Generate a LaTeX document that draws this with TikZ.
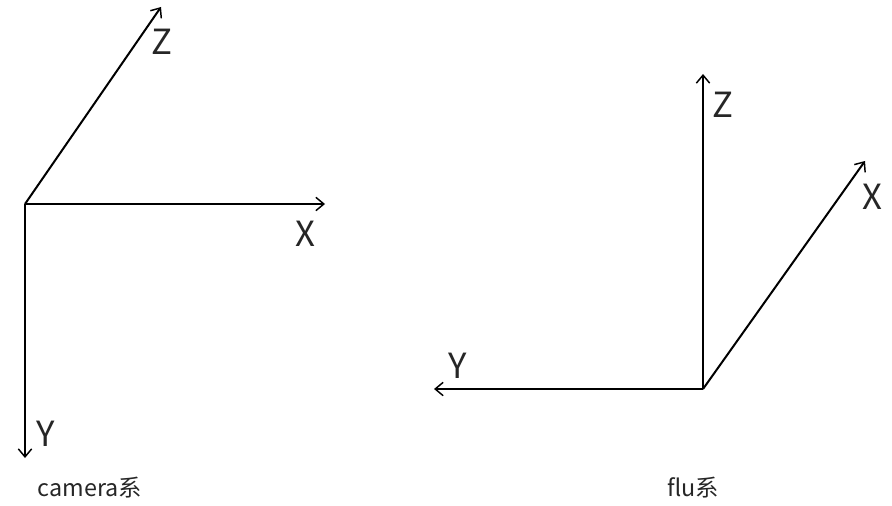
\documentclass[tikz,border=0pt]{standalone}
\usepackage{fontspec}
\setmainfont{Noto Sans CJK SC}
\usetikzlibrary{arrows.meta}
\tikzset{
  axis/.style={line width=1.5pt,-{Straight Barb[length=6pt,width=10pt,line width=1.1pt]}},
  axlabel/.style={inner sep=0.75pt,font=\fontsize{26}{26}\selectfont,text=black!85},
  caption/.style={inner sep=0.75pt,font=\fontsize{17.5}{17.5}\selectfont,text=black!85}
}
\begin{document}
\begin{tikzpicture}[x=0.75pt,y=0.75pt,yscale=-1,xscale=1]
\useasboundingbox (0,0) rectangle (892,506);

%camera frame
\coordinate (camO) at (25,204);
\coordinate (camZ) at (161,7);
\coordinate (camX) at (325,204);
\coordinate (camY) at (25,458);
\draw [axis] (camO) -- (camZ) ;
\draw [axis] (camO) -- (camX) ;
\draw [axis] (camO) -- (camY) ;

%flu frame
\coordinate (fluO) at (703,389);
\coordinate (fluZ) at (703,74);
\coordinate (fluX) at (865,161);
\coordinate (fluY) at (434,389);
\draw [axis] (fluO) -- (fluZ) ;
\draw [axis] (fluO) -- (fluX) ;
\draw [axis] (fluO) -- (fluY) ;

% Text Node
\node [axlabel] (camZl) at (162,42) {Z};
% Text Node
\node [axlabel] (camXl) at (305,234) {X};
% Text Node
\node [axlabel] (camYl) at (46,434) {Y};
% Text Node
\node [caption] (camT) at (90,488) {camera系};
% Text Node
\node [axlabel] (fluZl) at (723,105) {Z};
% Text Node
\node [axlabel] (fluXl) at (872,197) {X};
% Text Node
\node [axlabel] (fluYl) at (458,366) {Y};
% Text Node
\node [caption] (fluT) at (693,488) {flu系};

\end{tikzpicture}
\end{document}
